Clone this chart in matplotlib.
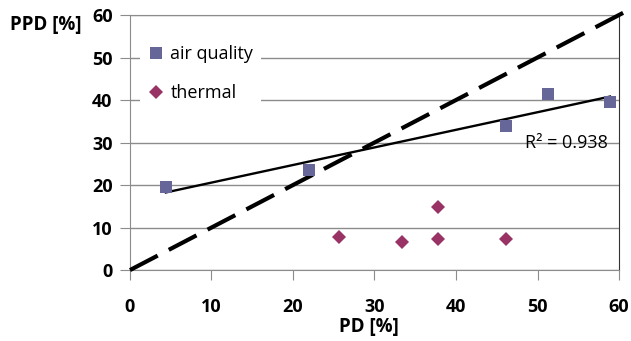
import numpy as np
import matplotlib
matplotlib.use("Agg")
import matplotlib.pyplot as plt

plt.rcParams['font.family'] = ['Open Sans', 'DejaVu Sans']

# air quality: PD vs PPD
aq_pd = [4.4, 22.0, 46.1, 51.3, 58.9]
aq_ppd = [19.5, 23.5, 33.9, 41.4, 39.5]

# thermal
th_pd = [25.6, 33.4, 37.8, 37.8, 46.1]
th_ppd = [7.8, 6.6, 7.3, 14.8, 7.3]

ticks = [0, 10, 20, 30, 40, 50, 60]
tick_labels = [str(t) for t in ticks]

fig = plt.figure(figsize=(6.31, 3.41), dpi=100)
ax = fig.add_axes([0.206, 0.208, 0.775, 0.748])

ax.set_xlim(0, 60)
ax.set_ylim(0, 60)
ax.set_xticks(ticks, labels=tick_labels, fontweight='bold', fontsize=13)
ax.set_yticks(ticks, labels=tick_labels, fontweight='bold', fontsize=13)
ax.yaxis.grid(True, color='#8c8c8c', linewidth=1.0)
ax.set_axisbelow(True)

for s in ['left', 'bottom', 'top']:
    ax.spines[s].set_color('#8c8c8c')
ax.spines['right'].set_color('#333333')

ax.tick_params(axis='both', direction='out', length=7, color='#8c8c8c')
ax.tick_params(axis='x', pad=13)
ax.tick_params(axis='y', pad=5.5)

# 1:1 line
ax.plot([0, 60.5], [0, 60.5], color='black', lw=3.0, ls=(0, (7.5, 3.0)), clip_on=False, zorder=3)

# linear trend for air quality
k, b = np.polyfit(aq_pd, aq_ppd, 1)
xs = np.array([min(aq_pd), max(aq_pd)])
ax.plot(xs, k * xs + b, color='black', lw=1.7, zorder=3)

ax.plot(aq_pd, aq_ppd, ls='none', marker='s', ms=9.3, mew=0, color='#666699', label='air quality', zorder=4)
ax.plot(th_pd, th_ppd, ls='none', marker='D', ms=7.1, mew=0, color='#993366', label='thermal', zorder=4)

ax.text(48.5, 30.0, 'R² = 0.938', fontsize=13, va='center', ha='left')

leg = ax.legend(loc='upper left', bbox_to_anchor=(0.02, 0.91), frameon=True, fontsize=13,
                handlelength=1.0, handletextpad=0.3, labelspacing=1.15, borderpad=0.4,
                borderaxespad=0)
leg.get_frame().set_edgecolor('none')
leg.get_frame().set_facecolor('white')
leg.get_frame().set_alpha(1.0)

fig.text(46 / 631, 1 - 25 / 341, 'PPD [%]', fontsize=13.5, fontweight='bold', ha='center', va='center')
fig.text(369 / 631, 1 - 327 / 341, 'PD [%]', fontsize=13.5, fontweight='bold', ha='center', va='center')

fig.savefig('out.png', dpi=100)
